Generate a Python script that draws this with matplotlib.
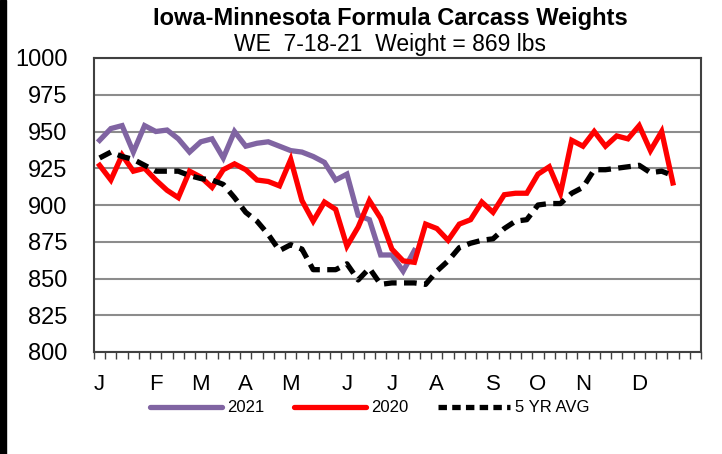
import numpy as np
import matplotlib
matplotlib.use('Agg')
import matplotlib.pyplot as plt
from matplotlib.patches import Rectangle
from matplotlib.lines import Line2D

plt.rcParams['font.family'] = ['Liberation Sans', 'DejaVu Sans']

# weekly carcass weights (lbs), week index 0 = first week of Jan
w2021 = [944, 952, 954, 936, 954, 950, 951, 945, 936, 943, 945, 932, 950, 940,
         942, 943, 940, 937, 936, 933, 929, 917, 921, 893, 890, 866, 866, 855, 869]
w2020 = [927, 917, 934, 923, 925, 917, 910, 905, 923, 919, 912, 924, 928, 924,
         917, 916, 913, 931, 903, 889, 902, 897, 872, 885, 903, 891, 870, 862,
         861, 887, 884, 876, 887, 890, 902, 895, 907, 908, 908, 921, 926, 908,
         944, 940, 950, 940, 947, 945, 954, 937, 950, 915]
avg5 = [932, 936, 933, 931, 927, 923, 923, 923, 920, 918, 917, 914, 905, 895,
        889, 880, 869, 873, 870, 856, 856, 856, 860, 849, 857, 846, 847, 847,
        847, 846, 855, 862, 871, 874, 876, 877, 884, 889, 890, 900, 901, 901,
        908, 912, 924, 924, 925, 926, 927, 922, 923, 920]

n_weeks = 54
month_names = ['J', 'F', 'M', 'A', 'M', 'J', 'J', 'A', 'S', 'O', 'N', 'D']
month_weeks = [0, 5, 9, 13, 17, 22, 26, 30, 35, 39, 43, 48]
yticks = [800, 825, 850, 875, 900, 925, 950, 975, 1000]

fig = plt.figure(figsize=(7.22, 4.54), dpi=100)
ax = fig.add_axes([94 / 722, 1 - 352 / 454, 607 / 722, 294 / 454])

lw = 3.8
ax.plot(np.arange(len(w2021)), w2021, color='#8064A2', lw=lw,
        solid_joinstyle='miter', zorder=3)
ax.plot(np.arange(len(w2020)), w2020, color='#FF0000', lw=lw,
        solid_joinstyle='miter', zorder=4)
ax.plot(np.arange(len(avg5)), avg5, color='black', lw=lw,
        dashes=(2.4, 1.4), zorder=5)

ax.set_xlim(-0.5, n_weeks - 0.5)
ax.set_ylim(800, 1000)
ax.set_yticks(yticks)
ax.yaxis.grid(True, color='#8C8C8C', lw=1.5)
ax.set_axisbelow(True)
ax.tick_params(axis='y', length=0, pad=19, labelsize=17)

ax.set_xticks(month_weeks)
ax.set_xticklabels(month_names)
ax.set_xticks(np.arange(n_weeks + 1) - 0.5, minor=True)
ax.tick_params(axis='x', which='major', length=0, pad=16, labelsize=16)
ax.tick_params(axis='x', which='minor', length=5, width=1, color='#404040',
               direction='out')
for s in ax.spines.values():
    s.set_color('#404040')
    s.set_linewidth(1.5)

fig.text(390 / 722, 1 - 18 / 454, 'Iowa-Minnesota Formula Carcass Weights',
         ha='center', va='center', fontsize=17, fontweight='bold')
fig.text(390 / 722, 1 - 45 / 454, 'WE  7-18-21  Weight = 869 lbs',
         ha='center', va='center', fontsize=16.5)

handles = [Line2D([], [], color='#8064A2', lw=lw, solid_capstyle='round'),
           Line2D([], [], color='#FF0000', lw=lw, solid_capstyle='round'),
           Line2D([], [], color='black', lw=lw, dashes=(1.6, 1.0))]
fig.legend(handles, ['2021', '2020', '5 YR AVG'], ncol=3,
           loc='center', bbox_to_anchor=(370 / 722, 1 - 408 / 454),
           frameon=False, fontsize=12, handlelength=4.3, handletextpad=0.3,
           columnspacing=1.8)

# thick black edge along the left side of the image
fig.patches.append(Rectangle((0, 0), 6 / 722, 1, transform=fig.transFigure,
                             color='black', zorder=10))

fig.savefig('out.png', dpi=100)
